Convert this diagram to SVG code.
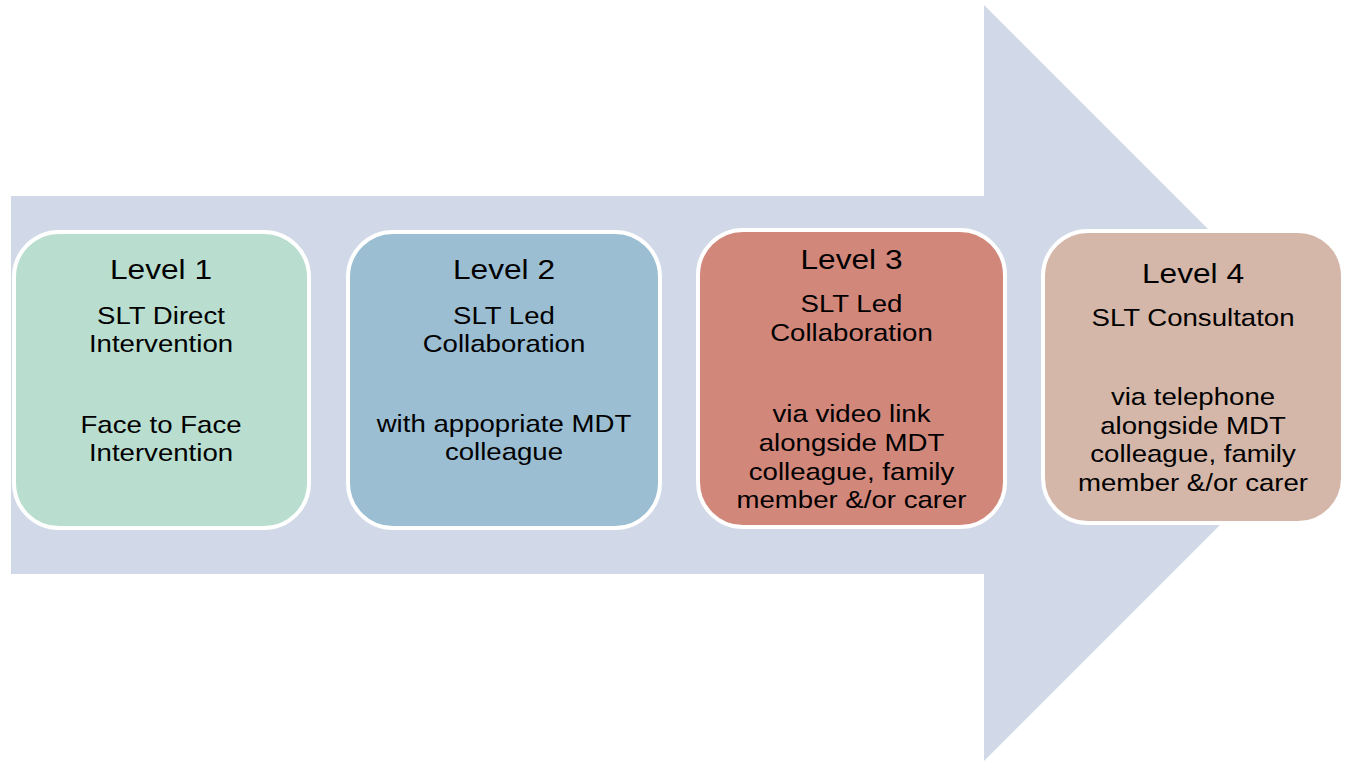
<svg xmlns="http://www.w3.org/2000/svg" width="1348" height="761" viewBox="0 0 1348 761">
<style>
.box{stroke:#ffffff;stroke-width:4}
.t{font-family:"Liberation Sans",Arial,sans-serif;fill:#000000;text-anchor:middle}
.h{font-size:27.5px}
.b{font-size:24px}
</style>
<rect width="1348" height="761" fill="#ffffff"/>
<g id="arrow">
<polygon points="11,196 984,196 984,5 1340,361 1340,405 984,761 984,574 11,574" fill="#d1d9e8"/>
</g>
<g id="connectors"></g>
<g id="level1">
<rect class="box" x="14" y="232" width="295" height="296" rx="45" fill="#b9ddcf"/>
<g transform="translate(161,0) scale(1.15,1)">
<text class="t h" x="0" y="279">Level 1</text>
<text class="t b" x="0" y="324">SLT Direct</text>
<text class="t b" x="0" y="352">Intervention</text>
<text class="t b" x="0" y="433">Face to Face</text>
<text class="t b" x="0" y="461">Intervention</text>
</g>
</g>
<g id="level2">
<rect class="box" x="348" y="232" width="312" height="296" rx="45" fill="#9bbed3"/>
<g transform="translate(504,0) scale(1.15,1)">
<text class="t h" x="0" y="279">Level 2</text>
<text class="t b" x="0" y="324">SLT Led</text>
<text class="t b" x="0" y="352">Collaboration</text>
<text class="t b" x="0" y="432">with appopriate MDT</text>
<text class="t b" x="0" y="460">colleague</text>
</g>
</g>
<g id="level3">
<rect class="box" x="698" y="230" width="307" height="297" rx="45" fill="#d2877b"/>
<g transform="translate(851.5,0) scale(1.15,1)">
<text class="t h" x="0" y="269">Level 3</text>
<text class="t b" x="0" y="312">SLT Led</text>
<text class="t b" x="0" y="341">Collaboration</text>
<text class="t b" x="0" y="422">via video link</text>
<text class="t b" x="0" y="451">alongside MDT</text>
<text class="t b" x="0" y="480">colleague, family</text>
<text class="t b" x="0" y="508">member &amp;/or carer</text>
</g>
</g>
<g id="level4">
<rect class="box" x="1043" y="231" width="300" height="292" rx="45" fill="#d5b7a9"/>
<g transform="translate(1193,0) scale(1.15,1)">
<text class="t h" x="0" y="283">Level 4</text>
<text class="t b" x="0" y="326">SLT Consultaton</text>
<text class="t b" x="0" y="405">via telephone</text>
<text class="t b" x="0" y="434">alongside MDT</text>
<text class="t b" x="0" y="462">colleague, family</text>
<text class="t b" x="0" y="491">member &amp;/or carer</text>
</g>
</g>
</svg>
